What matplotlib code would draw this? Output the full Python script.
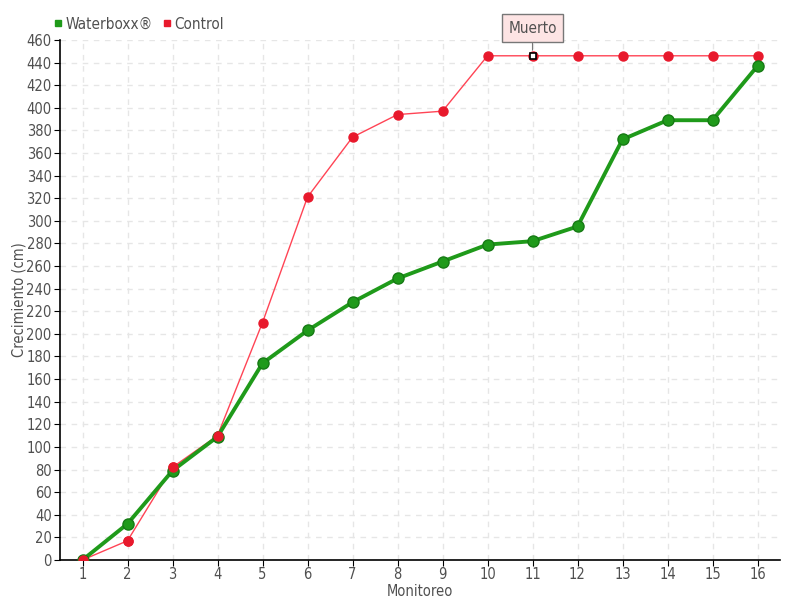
import numpy as np
import matplotlib.pyplot as plt
from matplotlib.lines import Line2D

# Data
monitoreo = np.arange(1, 17)
waterboxx = [0, 32, 79, 109, 174, 203, 228, 249, 264, 279, 282, 295, 372, 389, 389, 437]
control = [0, 17, 82, 110, 210, 321, 374, 394, 397, 446, 446, 446, 446, 446, 446, 446]
muerto_idx = 10  # monitoreo 11
y_ticks = np.arange(0, 461, 20)

TXT = '#505050'
GREEN = '#1f9a1a'
RED = '#e8192c'

plt.rcParams['font.family'] = ['DejaVu Sans']
plt.rcParams['font.stretch'] = 'condensed'

fig = plt.figure(figsize=(8, 6), dpi=100)
ax = fig.add_axes([0.075, 0.0667, 0.9, 0.8667])

ax.plot(monitoreo, control, color='#ff4455', lw=1, marker='o', ms=6.5,
        mfc=RED, mec=RED, zorder=3)
ax.plot(monitoreo, waterboxx, color=GREEN, lw=2.8, marker='o', ms=8,
        mfc=GREEN, mec='#167a14', mew=1, zorder=4)
# control markers sit on top of green at the start
ax.plot(monitoreo[:4], control[:4], ls='none', marker='o', ms=6.5,
        mfc=RED, mec=RED, zorder=5)

# Muerto marker and label
ax.plot(monitoreo[muerto_idx], control[muerto_idx], ls='none', marker='s', ms=5,
        mfc='white', mec='black', mew=1.2, zorder=6)
ax.annotate('Muerto', xy=(monitoreo[muerto_idx], control[muerto_idx]),
            xytext=(0, 20), textcoords='offset points', ha='center', va='center',
            fontsize=11, color=TXT,
            bbox=dict(boxstyle='square,pad=0.4', fc='#fde4e4', ec='#777777', lw=1),
            arrowprops=dict(arrowstyle='-', color='#777777', lw=0.8,
                            shrinkA=0, shrinkB=4),
            zorder=7)

ax.set_xlim(0.5, 16.5)
ax.set_ylim(0, 460)
ax.set_xticks(monitoreo)
ax.set_yticks(y_ticks)
ax.tick_params(axis='both', colors='black', labelcolor=TXT, labelsize=10.5,
               length=4, direction='out', pad=2)
ax.tick_params(axis='x', pad=1)
ax.grid(True, color='#e6e6e6', ls=(0, (4, 4)), lw=1)
ax.set_axisbelow(True)
for s in ['top', 'right']:
    ax.spines[s].set_visible(False)
ax.spines['left'].set_linewidth(1.2)
ax.spines['bottom'].set_linewidth(1.2)

ax.set_xlabel('Monitoreo', color=TXT, fontsize=10.5)
ax.set_ylabel('Crecimiento (cm)', color=TXT, fontsize=10.5)
ax.xaxis.set_label_coords(0.5, -0.046)
ax.yaxis.set_label_coords(-0.047, 0.5)

handles = [Line2D([], [], ls='none', marker='s', ms=5, color=GREEN),
           Line2D([], [], ls='none', marker='s', ms=5, color=RED)]
fig.legend(handles, ['Waterboxx®', 'Control'], loc='upper left',
           bbox_to_anchor=(0.05, 0.995), ncol=2, frameon=False,
           handlelength=0.6, handletextpad=0.2, columnspacing=0.6,
           labelcolor=TXT, fontsize=11)

fig.savefig('out.png')
